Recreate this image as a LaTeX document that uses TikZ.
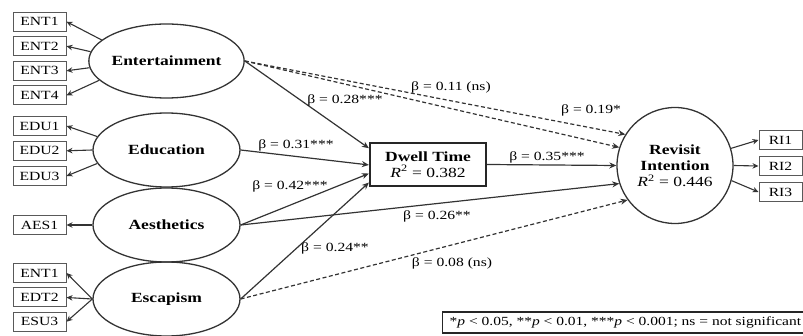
\documentclass[tikz,border=0pt]{standalone}
\usepackage{fontspec}
\setmainfont{Liberation Serif}[FakeStretch=1.25]
\usetikzlibrary{arrows.meta,calc,shapes.geometric}

\begin{document}
\begin{tikzpicture}[x=1pt,y=-1pt,
  ind/.style={draw=black!65, line width=1pt, minimum width=53pt,
    minimum height=19pt, inner sep=0pt, font=\fontsize{12.5}{14}\selectfont},
  lat/.style={ellipse, draw=black!80, line width=1.3pt, minimum width=147pt,
    minimum height=74pt, inner sep=0pt, font=\bfseries\fontsize{14}{16}\selectfont},
  load/.style={draw=black!80, line width=1.1pt, -{Stealth[length=6pt,width=5.5pt]}},
  effect/.style={draw=black!80, line width=1.2pt, -{Stealth[length=7pt,width=6pt]}},
  nseffect/.style={effect, dash pattern=on 4pt off 2.5pt},
  coef/.style={font=\fontsize{12.5}{14}\selectfont, inner sep=1pt},
]
\useasboundingbox (0,0) rectangle (803,336);
\begin{scope}
\clip (0,0) rectangle (803,336);

% indicators of the experience dimensions
\node[ind] (ent1) at (39.5,21.7) {ENT1};
\node[ind] (ent2) at (39.5,46.2) {ENT2};
\node[ind] (ent3) at (39.5,70.8) {ENT3};
\node[ind] (ent4) at (39.5,95.3) {ENT4};
\node[ind] (edu1) at (39.5,126) {EDU1};
\node[ind] (edu2) at (39.5,150.8) {EDU2};
\node[ind] (edu3) at (39.5,176) {EDU3};
\node[ind] (aes1) at (39.5,225) {AES1};
\node[ind] (esc1) at (39.5,273) {ENT1};
\node[ind] (esc2) at (39.5,297.5) {EDT2};
\node[ind] (esc3) at (39.5,321.7) {ESU3};

% latent constructs
\node[lat] (ent) at (166.5,61) {Entertainment};
\node[lat] (edu) at (166.5,150) {Education};
\node[lat] (aes) at (166.5,225) {Aesthetics};
\node[lat] (esc) at (166.5,299) {Escapism};

\node[draw=black!85, line width=2.2pt, minimum width=116pt, minimum height=43pt,
  inner sep=0pt, align=center, font=\bfseries\fontsize{14}{15.5}\selectfont]
  (dwell) at (428,164.5) {Dwell Time\\{\mdseries\textit{R}\textsuperscript{2} = 0.382}};

\node[circle, draw=black!80, line width=1.3pt, minimum size=116pt, inner sep=0pt,
  align=center, font=\bfseries\fontsize{14}{16}\selectfont]
  (rev) at (675,165.5) {Revisit\\Intention\\{\mdseries\textit{R}\textsuperscript{2} = 0.446}};

\node[ind, minimum width=43pt] (ri1) at (780.5,140) {RI1};
\node[ind, minimum width=43pt] (ri2) at (780.5,166) {RI2};
\node[ind, minimum width=43pt] (ri3) at (780.5,192) {RI3};

% measurement loadings
\draw[load] (ent.162) -- (ent1.east);
\draw[load] (ent.173) -- (ent2.east);
\draw[load] (ent.185) -- (ent3.east);
\draw[load] (ent.196) -- (ent4.east);
\draw[load] (edu.169) -- (edu1.east);
\draw[load] (edu.west) -- (edu2.east);
\draw[load] (edu.191) -- (edu3.east);
\draw[load] (aes.west) -- (aes1.east);
\draw[load] (esc.west) -- (esc1.east);
\draw[load] (esc.west) -- (esc2.east);
\draw[load] (esc.west) -- (esc3.east);
\draw[load] (rev.17) -- (ri1.west);
\draw[load] (rev.east) -- (ri2.west);
\draw[load] (rev.-15) -- (ri3.west);

% structural paths
\draw[effect] (ent.east) -- ($(dwell.north west)!0.14!(dwell.south west)$);
\draw[effect] (edu.east) -- ($(dwell.north west)!0.51!(dwell.south west)$);
\draw[effect] (aes.east) -- ($(dwell.north west)!0.70!(dwell.south west)$);
\draw[effect] (esc.east) -- ($(dwell.north west)!0.90!(dwell.south west)$);
\draw[nseffect] (ent.east) -- (rev.148);
\draw[nseffect] (ent.east) -- (rev.162);
\draw[effect] (dwell.east) -- (rev.west);
\draw[effect] (aes.east) -- (rev.198);
\draw[nseffect] (esc.east) -- (rev.216);

% path coefficients
\node[coef] (c28) at (345,100) {β = 0.28***};
\node[coef] (c31) at (296,145) {β = 0.31***};
\node[coef] (c42) at (290,186) {β = 0.42***};
\node[coef] (c24) at (335,248) {β = 0.24**};
\node[coef] (c11) at (451,87) {β = 0.11 (ns)};
\node[coef] (c19) at (591,110) {β = 0.19*};
\node[coef] (c35) at (547,157) {β = 0.35***};
\node[coef] (c26) at (437,216) {β = 0.26**};
\node[coef] (c08) at (452,263) {β = 0.08 (ns)};

% significance legend
\node[draw=black!85, line width=1.4pt, anchor=west, minimum height=21pt,
  inner xsep=7pt, font=\fontsize{12.4}{14}\selectfont] (legend) at (442,322.5)
  {*\textit{p} < 0.05, **\textit{p} < 0.01, ***\textit{p} < 0.001; ns = not significant};
\end{scope}
\end{tikzpicture}
\end{document}
